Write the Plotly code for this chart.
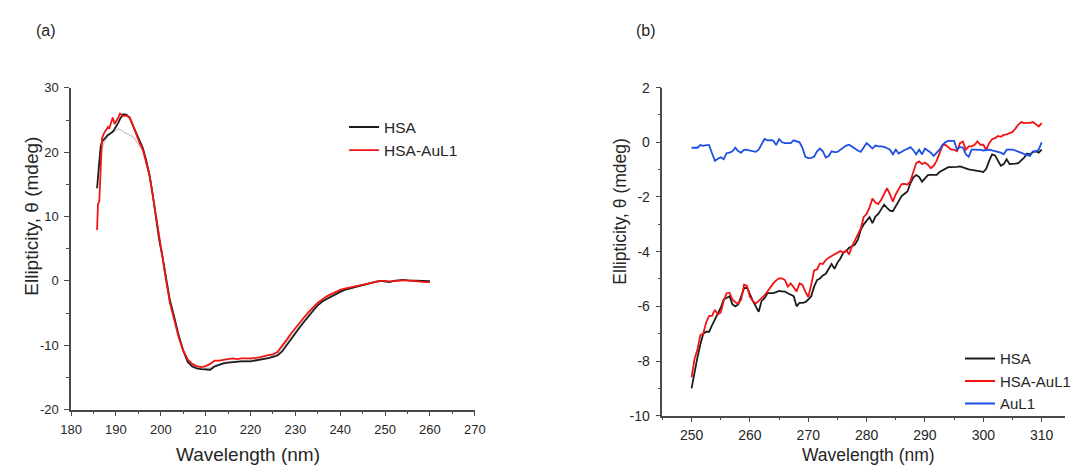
import plotly.graph_objects as go

# ---------------- Panel (a): far-UV CD ----------------
WL_A = [185.8, 186.0, 186.3, 186.6, 186.9, 187.3, 187.8, 188.2, 188.5, 188.95, 189.3, 189.7,
        190.2, 190.55, 190.9, 191.6, 192.4, 193.1, 193.8, 194.6, 195.3, 196.0, 196.7, 197.5,
        198.2, 198.9, 199.65, 200.4, 201, 202, 203, 204, 205, 206, 207, 208, 209, 210, 211, 212,
        213, 214, 215, 216, 217, 218, 220, 222, 224, 225, 226, 227, 228, 229, 230, 231, 232,
        233, 234, 235, 236, 237, 238, 239, 240, 241, 242, 243, 244, 245, 246, 247, 248, 249,
        250, 251, 252, 253, 254, 255, 256, 257, 258, 259, 260]

HSA_A = [14.4, 16.0, 18.0, 20.9, 21.65, 22.0, 22.4, 22.7, 22.8, 23.0, 23.2, 23.6,
         24.15, 24.6, 25.15, 25.9, 25.8, 25.3, 24.15, 22.9, 21.65, 20.65, 18.9, 16.4,
         13.4, 9.9, 6.4, 3.7, 1.3, -2.9, -5.6, -8.5, -10.8, -12.6, -13.3, -13.6, -13.7, -13.8, -13.8, -13.3,
         -13.0, -12.8, -12.7, -12.6, -12.5, -12.5, -12.5, -12.3, -12.0, -11.8, -11.6, -11.0, -10.0, -9.0, -8.2, -7.2, -6.3,
         -5.4, -4.6, -3.8, -3.2, -2.8, -2.4, -2.1, -1.7, -1.4, -1.2, -1.1, -0.9, -0.7, -0.5, -0.3, -0.1, 0.0,
         -0.1, -0.2, 0.0, 0.1, 0.15, 0.1, 0.05, 0.0, 0.0, 0.0, -0.05]

HSA_AUL1_A = [7.9, 11.9, 12.4, 18.4, 22.15, 22.9, 23.4, 23.9, 23.65, 24.65, 25.4, 24.4,
              24.9, 25.4, 26.0, 25.65, 25.65, 25.4, 24.15, 22.65, 21.4, 20.4, 18.65, 16.4,
              13.4, 10.15, 6.65, 3.5, 0.9, -3.3, -5.9, -8.8, -10.8, -12.2, -12.9, -13.25, -13.4, -13.25, -12.9, -12.4,
              -12.4, -12.3, -12.25, -12.05, -12.15, -12.05, -12.05, -11.9, -11.55, -11.4, -11.05, -10.2, -9.2, -8.2, -7.3, -6.5, -5.6,
              -4.8, -4.1, -3.4, -2.9, -2.4, -2.05, -1.7, -1.4, -1.2, -1.05, -0.9, -0.75, -0.6, -0.4, -0.25, -0.15, 0.0,
              0.0, -0.1, 0.0, 0.1, 0.1, 0.1, 0.0, 0.0, -0.1, -0.2, -0.2]

WL_A_GRAY = [186.0, 186.55, 187.3, 188.4, 189.5, 190.55, 191.3, 191.6, 192.4, 193.1, 193.8,
             194.6, 195.3, 196.0, 196.7, 197.5, 198.2, 199, 200, 201, 202, 203, 204, 205, 206, 207,
             208, 209, 210, 211, 212, 214, 216, 218, 220, 222, 224, 226, 228, 230, 232, 234,
             236, 238, 240, 244, 248, 252, 256, 260]
GRAY_A = [17.4, 19.9, 21.4, 22.65, 23.15, 23.65, 23.4, 23.15, 22.9, 22.65, 22.4,
          21.65, 20.9, 20.15, 18.6, 16.3, 13.4, 9.6, 5.2, 1.1, -3.0, -5.7, -8.6, -10.9, -12.5, -13.2,
          -13.5, -13.6, -13.6, -13.5, -13.1, -12.7, -12.5, -12.4, -12.4, -12.2, -11.9, -11.4, -9.6, -7.8, -6.0, -4.4,
          -3.0, -2.3, -1.6, -0.8, -0.1, 0.0, 0.1, -0.1]

# ---------------- Panel (b): near-UV CD ----------------
WL_B = [250 + 0.5 * i for i in range(121)]

HSA_B = [-9.0, -8.4, -7.87, -7.4, -7.0, -6.93, -6.93, -6.7, -6.47, -6.3,
         -6.05, -5.75, -5.7, -5.63, -5.93, -6.0, -5.93, -5.63, -5.34, -5.31,
         -5.58, -5.8, -6.0, -6.2, -5.8, -5.7, -5.52, -5.52, -5.52, -5.48,
         -5.44, -5.45, -5.46, -5.52, -5.58, -5.63, -6.0, -5.87, -5.87, -5.85,
         -5.75, -5.63, -5.28, -5.04, -4.98, -4.87, -4.81, -4.63, -4.45, -4.63,
         -4.4, -4.25, -4.04, -3.98, -3.86, -3.8, -3.74, -3.56, -3.2, -3.0,
         -2.86, -2.74, -2.96, -2.72, -2.62, -2.44, -2.28, -2.4, -2.5, -2.52,
         -2.32, -2.15, -1.97, -1.88, -1.8, -1.5, -1.29, -1.2, -1.27, -1.44,
         -1.33, -1.2, -1.19, -1.19, -1.19, -1.09, -1.03, -0.97, -0.91, -0.91,
         -0.91, -0.9, -0.88, -0.92, -0.97, -0.99, -1.01, -1.02, -1.03, -1.06,
         -1.09, -0.97, -0.68, -0.44, -0.48, -0.68, -0.86, -0.8, -0.62, -0.8,
         -0.8, -0.78, -0.76, -0.66, -0.56, -0.41, -0.44, -0.36, -0.33, -0.38,
         -0.27]

HSA_AUL_B = [-8.6, -7.93, -7.58, -7.05, -7.0, -6.58, -6.35, -6.35, -6.13, -6.3,
             -6.22, -5.8, -5.52, -5.5, -5.75, -5.85, -5.9, -5.75, -5.2, -5.25,
             -5.65, -5.8, -5.9, -5.8, -5.7, -5.6, -5.46, -5.3, -5.16, -5.05,
             -4.98, -4.98, -5.04, -5.28, -5.16, -5.3, -5.46, -5.16, -5.22, -5.46,
             -5.66, -5.22, -4.69, -4.65, -4.43, -4.45, -4.31, -4.22, -4.16, -4.1,
             -4.04, -3.98, -4.04, -3.95, -4.1, -3.8, -3.59, -3.36, -3.15, -2.73,
             -2.62, -2.38, -2.06, -2.2, -2.26, -2.1, -1.88, -1.68, -1.9, -2.17,
             -1.9, -1.73, -1.53, -1.52, -1.55, -1.43, -1.08, -0.76, -0.7, -0.8,
             -0.74, -0.82, -0.95, -0.86, -0.68, -0.38, -0.12, -0.09, -0.17, -0.27,
             -0.27, -0.33, -0.03, 0.03, -0.27, -0.15, -0.15, -0.09, 0.03, -0.09,
             -0.09, -0.27, -0.03, 0.11, 0.15, 0.23, 0.2, 0.27, 0.29, 0.33,
             0.38, 0.5, 0.65, 0.74, 0.7, 0.71, 0.71, 0.74, 0.65, 0.58,
             0.7]

AUL1_B = [-0.2, -0.2, -0.2, -0.1, -0.13, -0.1, -0.1, -0.4, -0.68, -0.6,
          -0.55, -0.62, -0.4, -0.38, -0.33, -0.2, -0.33, -0.38, -0.27, -0.28,
          -0.3, -0.32, -0.35, -0.27, -0.1, 0.12, 0.07, 0.08, 0.06, -0.1,
          0.12, 0.0, -0.03, -0.03, -0.03, 0.07, 0.03, 0.0, -0.2, -0.53,
          -0.58, -0.57, -0.53, -0.33, -0.23, -0.33, -0.56, -0.5, -0.33, -0.36,
          -0.35, -0.27, -0.17, -0.12, -0.09, -0.17, -0.24, -0.3, -0.35, -0.2,
          -0.03, -0.12, -0.23, -0.12, -0.15, -0.15, -0.17, -0.22, -0.27, -0.44,
          -0.27, -0.41, -0.33, -0.28, -0.24, -0.18, -0.29, -0.44, -0.27, -0.44,
          -0.23, -0.3, -0.38, -0.5, -0.38, -0.27, -0.09, 0.0, 0.05, 0.05,
          0.05, -0.27, -0.17, -0.2, -0.44, -0.53, -0.27, -0.27, -0.27, -0.28,
          -0.3, -0.28, -0.27, -0.3, -0.33, -0.35, -0.38, -0.44, -0.27, -0.27,
          -0.27, -0.3, -0.35, -0.4, -0.44, -0.47, -0.5, -0.33, -0.33, -0.27,
          0.0]

X_TICKS_A = [180, 190, 200, 210, 220, 230, 240, 250, 260, 270]
Y_TICKS_A = [-20, -10, 0, 10, 20, 30]
X_TICKS_B = [250, 260, 270, 280, 290, 300, 310]
Y_TICKS_B = [-10, -8, -6, -4, -2, 0, 2]

BLACK = "#1c1c1c"
RED = "#f21414"
BLUE = "#1d4fe3"
GRAY = "#c9c9c9"
AXIS = "#4a4a4a"
TXT = "#262626"
FONT = "Liberation Sans, Arial, sans-serif"

W, H = 1076, 472

fig = go.Figure()
fig.add_trace(go.Scatter(x=WL_A_GRAY, y=GRAY_A, mode="lines", line=dict(color=GRAY, width=1.2),
                         showlegend=False, xaxis="x", yaxis="y", hoverinfo="skip"))
fig.add_trace(go.Scatter(x=WL_A, y=HSA_A, mode="lines", name="HSA", line=dict(color=BLACK, width=1.8),
                         xaxis="x", yaxis="y", legend="legend"))
fig.add_trace(go.Scatter(x=WL_A, y=HSA_AUL1_A, mode="lines", name="HSA-AuL1", line=dict(color=RED, width=1.8),
                         xaxis="x", yaxis="y", legend="legend"))
fig.add_trace(go.Scatter(x=WL_B, y=HSA_B, mode="lines", name="HSA", line=dict(color=BLACK, width=1.8),
                         xaxis="x2", yaxis="y2", legend="legend2"))
fig.add_trace(go.Scatter(x=WL_B, y=HSA_AUL_B, mode="lines", name="HSA-AuL1", line=dict(color=RED, width=1.8),
                         xaxis="x2", yaxis="y2", legend="legend2"))
fig.add_trace(go.Scatter(x=WL_B, y=AUL1_B, mode="lines", name="AuL1", line=dict(color=BLUE, width=1.8),
                         xaxis="x2", yaxis="y2", legend="legend2"))


def px_x(p):
    return p / W


def px_y(p):
    return 1 - p / H


def labels(vals):
    return [str(v) for v in vals]  # plain hyphen-minus as in the original


def axis_style(size):
    return dict(showgrid=False, zeroline=False, showline=True, linecolor=AXIS, linewidth=1.5,
                ticks="outside", ticklen=5, tickwidth=1.3, tickcolor=AXIS,
                tickfont=dict(family=FONT, size=size, color=TXT), mirror=False)


fig.update_layout(
    width=W, height=H, margin=dict(l=0, r=0, t=0, b=0),
    paper_bgcolor="white", plot_bgcolor="white",
    font=dict(family=FONT, color=TXT),
    xaxis=dict(domain=[px_x(61.3), px_x(473.5)], range=[180, 270],
               tickvals=X_TICKS_A, ticktext=labels(X_TICKS_A), ticklabelstandoff=2,
               minor=dict(ticks="outside", ticklen=3, dtick=5, tick0=180, tickcolor=AXIS),
               anchor="y", **axis_style(13)),
    yaxis=dict(domain=[px_y(415.7), px_y(82.7)], range=[-20, 30],
               tickvals=Y_TICKS_A, ticktext=labels(Y_TICKS_A), ticklabelstandoff=3,
               minor=dict(ticks="outside", ticklen=3, dtick=5, tick0=-20, tickcolor=AXIS),
               anchor="x", **axis_style(13)),
    xaxis2=dict(domain=[px_x(665), 1.0], range=[245, 314],
                tickvals=X_TICKS_B, ticktext=labels(X_TICKS_B), ticklabelstandoff=1,
                minor=dict(ticks="outside", ticklen=3, dtick=5, tick0=245, tickcolor=AXIS),
                anchor="y2", **axis_style(14)),
    yaxis2=dict(domain=[px_y(422), px_y(82.4)], range=[-10, 2],
                tickvals=Y_TICKS_B, ticktext=labels(Y_TICKS_B), ticklabelstandoff=3,
                minor=dict(ticks="outside", ticklen=3, dtick=1, tick0=-10, tickcolor=AXIS),
                anchor="x2", **axis_style(14)),
    legend=dict(x=px_x(340), y=px_y(106), xanchor="left", yanchor="top",
                font=dict(family=FONT, size=15.5, color=TXT), bgcolor="rgba(0,0,0,0)",
                tracegroupgap=0),
    legend2=dict(x=px_x(969), y=px_y(346), xanchor="left", yanchor="top",
                 font=dict(family=FONT, size=15, color=TXT), bgcolor="rgba(0,0,0,0)",
                 tracegroupgap=0),
)

ann = [
    dict(text="(a)", x=px_x(36), y=px_y(23), size=16),
    dict(text="(b)", x=px_x(648), y=px_y(23), size=16),
    dict(text="Wavelength (nm)", x=px_x(242), y=px_y(462), size=19),
    dict(text="Wavelength (nm)", x=px_x(875), y=px_y(463), size=17.5),
    dict(text="Ellipticity, θ (mdeg)", x=px_x(21.5), y=px_y(216), size=19, angle=-90),
    dict(text="Ellipticity, θ (mdeg)", x=px_x(621.5), y=px_y(210), size=17.5, angle=-90),
]
for a in ann:
    fig.add_annotation(text=a["text"], x=a["x"], y=a["y"], xref="paper", yref="paper",
                       xanchor="center", yanchor="middle", showarrow=False,
                       textangle=a.get("angle", 0),
                       font=dict(family=FONT, size=a["size"], color=TXT))

fig.write_html("out.html")
